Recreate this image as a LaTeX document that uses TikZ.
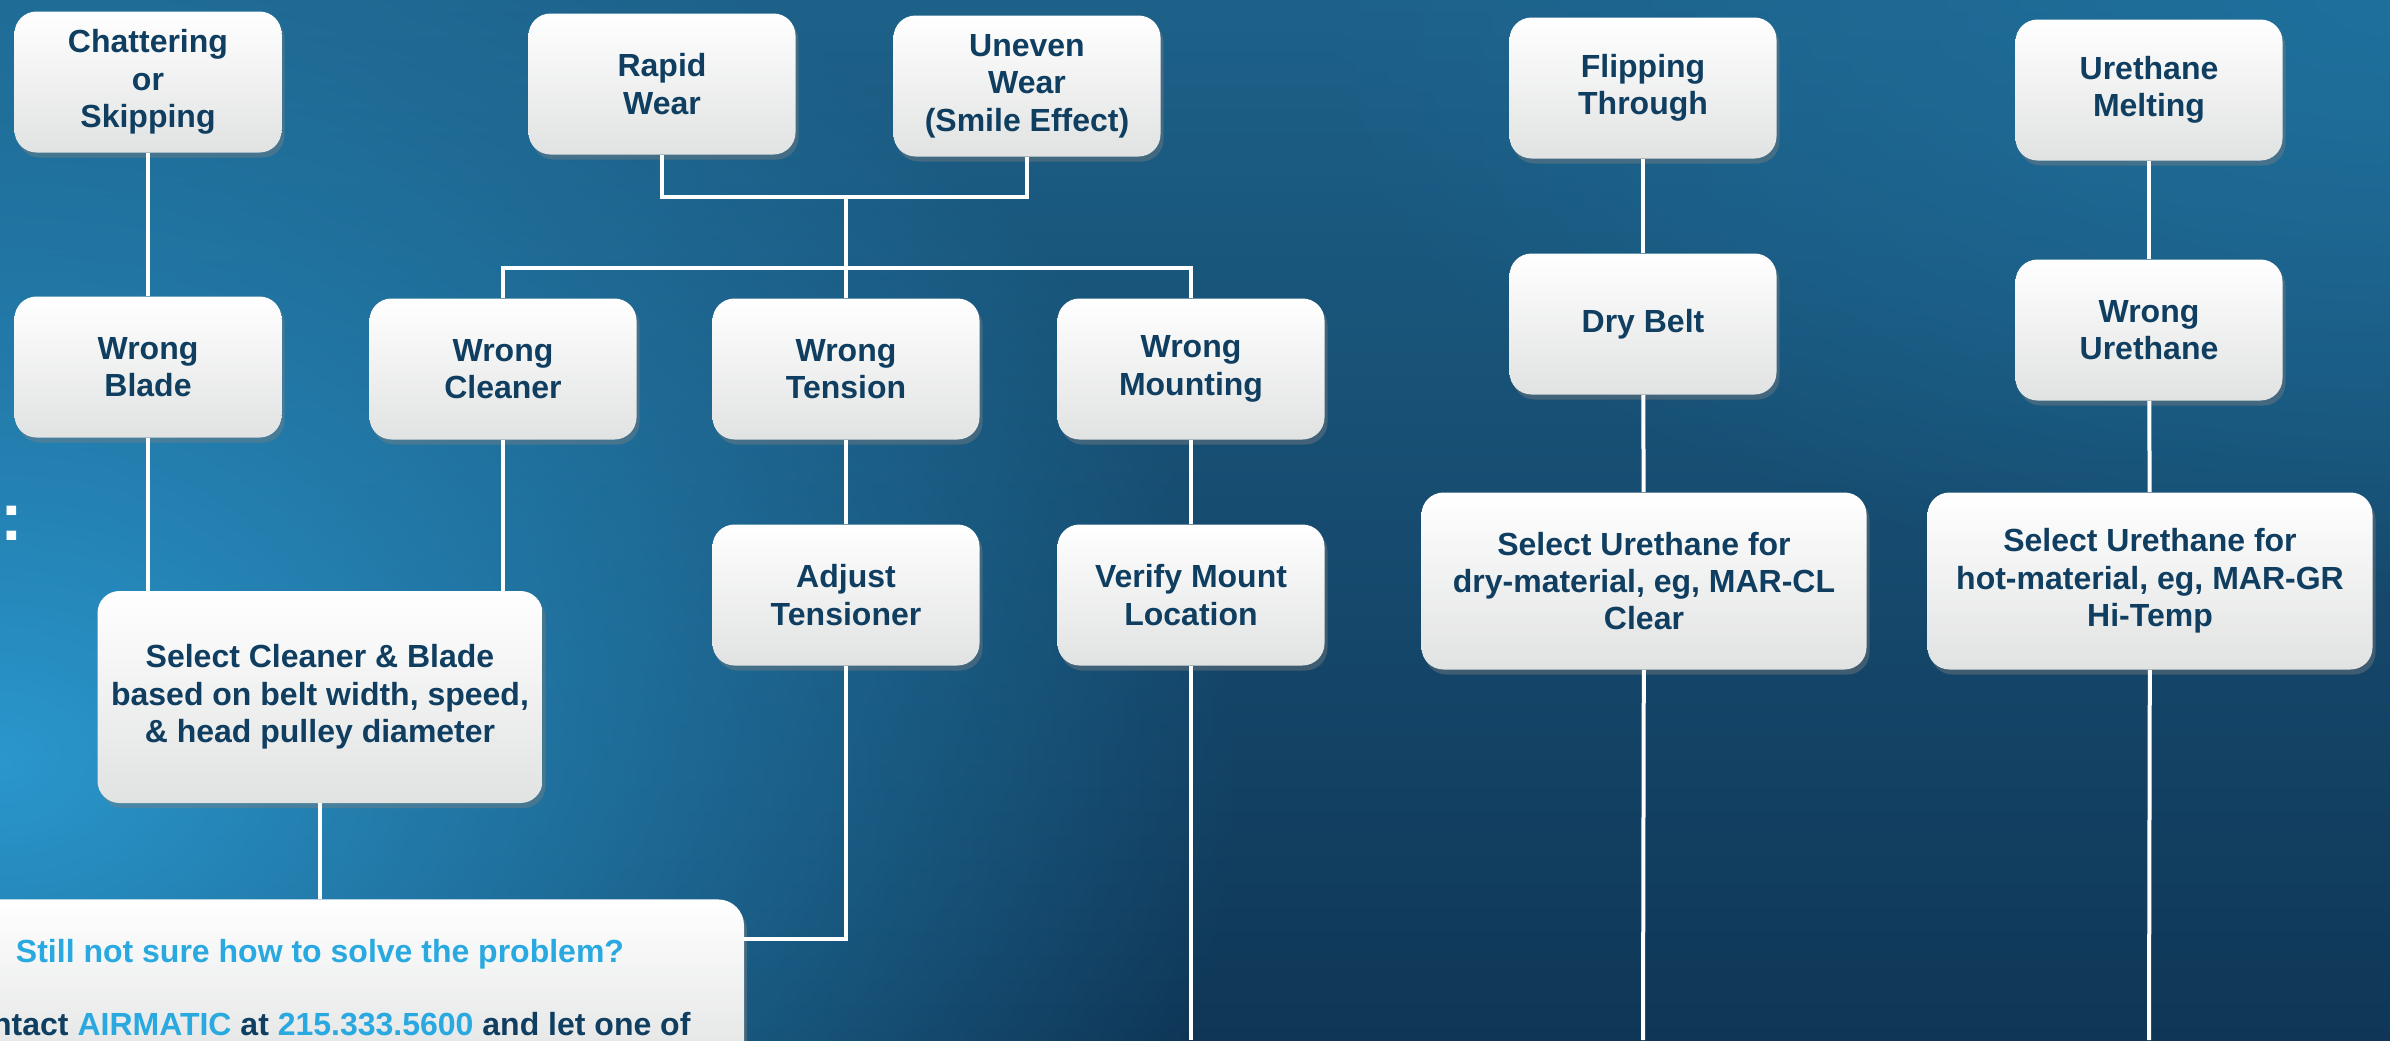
\documentclass[tikz,border=0pt]{standalone}
\usepackage{fontspec}
\setmainfont{Liberation Sans}
\usetikzlibrary{positioning,shadows,fadings}
\definecolor{navy}{HTML}{0F3E60}
\definecolor{sky}{HTML}{29A9E0}
\definecolor{boxgray}{HTML}{E1E2E2}
\definecolor{bgtop}{HTML}{1D6189}
\definecolor{bgbot}{HTML}{0F3656}
\definecolor{glowa}{HTML}{2A97CD}
\definecolor{glowb}{HTML}{1F709D}
\tikzfading[name=glowfade, inner color=transparent!0, outer color=transparent!100]
\begin{document}
\begin{tikzpicture}[x=0.5pt, y=-0.5pt,
  box/.style={rounded corners=11pt, top color=white, bottom color=boxgray,
    drop shadow={shadow xshift=1.5pt, shadow yshift=-2.5pt, opacity=.4},
    minimum width=133.5pt, minimum height=70.5pt, inner sep=2pt, align=center,
    text=navy, font=\bfseries\fontsize{16}{18.7}\selectfont},
  wide/.style={minimum width=222.5pt, minimum height=88.5pt},
  wire/.style={white, line width=2pt}]
\useasboundingbox (0,0) rectangle (2390,1040);
\clip (0,0) rectangle (2390,1040);
% background
\shade[top color=bgtop, bottom color=bgbot] (0,0) rectangle (2390,1040);
\fill[glowb, path fading=glowfade] (2390,0) ellipse [x radius=550pt, y radius=300pt];
\fill[glowa, path fading=glowfade] (0,760) ellipse [x radius=620pt, y radius=480pt];
\node[anchor=base west, inner sep=0pt, text=white, font=\bfseries\fontsize{34}{40}\selectfont] (colon) at (0,540) {:};
% symptoms
\node[box] (sym0) at (148,82) {Chattering\\or\\Skipping};
\node[box] (sym1) at (662,84) {Rapid\\Wear};
\node[box] (sym2) at (1027,86) {Uneven\\Wear\\(Smile Effect)};
\node[box] (sym3) at (1643,88) {Flipping\\Through};
\node[box] (sym4) at (2149,90) {Urethane\\Melting};
% causes
\node[box] (cau0) at (148,367) {Wrong\\Blade};
\node[box] (cau1) at (503,369) {Wrong\\Cleaner};
\node[box] (cau2) at (846,369) {Wrong\\Tension};
\node[box] (cau3) at (1191,369) {Wrong\\Mounting};
\node[box] (cau4) at (1643,324) {Dry Belt};
\node[box] (cau5) at (2149,330) {Wrong\\Urethane};
% fixes
\node[box, minimum width=222.5pt, minimum height=106pt] (fix0) at (320,697) {Select Cleaner \& Blade\\based on belt width, speed,\\\& head pulley diameter};
\node[box] (fix1) at (846,595) {Adjust\\Tensioner};
\node[box] (fix2) at (1191,595) {Verify Mount\\Location};
\node[box, wide] (fix3) at (1644,581) {Select Urethane for\\dry-material, eg, MAR-CL\\Clear};
\node[box, wide] (fix4) at (2150,581) {Select Urethane for\\hot-material, eg, MAR-GR\\Hi-Temp};
\node[box, anchor=north, minimum width=424pt, minimum height=0pt, inner ysep=20pt, rounded corners=13pt] (help0) at (320,899)
  {\textcolor{sky}{Still not sure how to solve the problem?}\\[17.8pt]
   Contact \textcolor{sky}{AIRMATIC} at \textcolor{sky}{215.333.5600} and let one of};
\coordinate (jn0) at (846,197);
\coordinate (jn1) at (846,268);
\coordinate (jn2) at (846,939);
\coordinate (end0) at (1191,1040);
\coordinate (end1) at (1643,1040);
\coordinate (end2) at (2149,1040);
% connectors
\draw[wire](sym0) -- (cau0);
\draw[wire](cau0.south) -- (cau0.south |- fix0.north);
\draw[wire](cau1.south) -- (cau1.south |- fix0.north);
\draw[wire](fix0) -- (help0);
\draw[wire](sym1.south) |- (jn0) -| (sym2.south);
\draw[wire](jn0) -- (jn1);
\draw[wire](cau1.north) |- (jn1) -| (cau3.north);
\draw[wire](jn1) -- (cau2);
\draw[wire](cau2) -- (fix1);
\draw[wire](fix1) -- (jn2) -- (jn2 -| help0.east);
\draw[wire](cau3) -- (fix2);
\draw[wire](fix2) -- (end0);
\draw[wire](sym3) -- (cau4);
\draw[wire](cau4) -- (fix3);
\draw[wire](fix3) -- (end1);
\draw[wire](sym4) -- (cau5);
\draw[wire](cau5) -- (fix4);
\draw[wire](fix4) -- (end2);
\end{tikzpicture}
\end{document}
